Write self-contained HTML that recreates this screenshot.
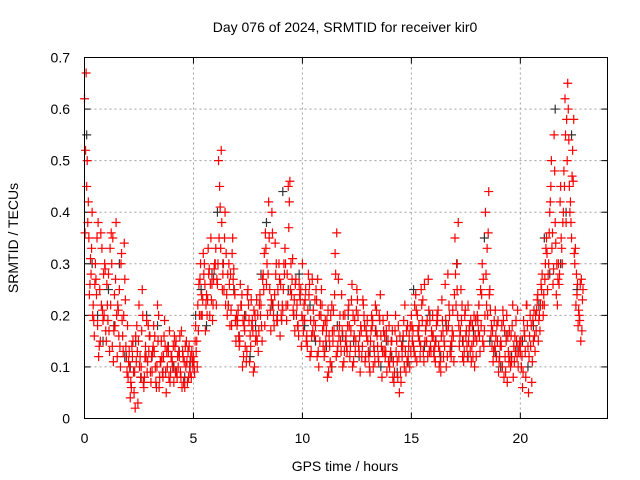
<!DOCTYPE html>
<html><head><meta charset="utf-8"><style>
body{margin:0;background:#fff;}
svg{display:block;font-family:"Liberation Sans",sans-serif;}
</style></head><body>
<svg id="chart" width="640" height="480" viewBox="0 0 640 480">
<text x="345" y="32" font-size="14" text-anchor="middle">Day 076 of 2024, SRMTID for receiver kir0</text>
<text x="345" y="471" font-size="14" text-anchor="middle">GPS time / hours</text>
<text x="18" y="238" font-size="14" text-anchor="middle" transform="rotate(-90 18 238)">SRMTID / TECUs</text>
<g id="grid"></g>
<g id="axes"></g>
<g id="black-series"></g>
<g id="red-series"></g>
<rect x="84.5" y="57.5" width="523" height="361" fill="none" stroke="#000" stroke-width="1"/>
</svg>
<script>
const xTicks=[0,5,10,15,20];
const yTicks=[0,0.1,0.2,0.3,0.4,0.5,0.6,0.7];
const yTickLabels=["0","0.1","0.2","0.3","0.4","0.5","0.6","0.7"];
const redA=[.62,.45,.35,.28,.22,.30,.18,.25,.33,.20,
.15,.28,.22,.35,.18,.12,.25,.32,.20,.14,
.08,.04,.12,.09,.18,.22,.10,.07,.14,.11,
.16,.09,.13,.06,.20,.11,.08,.14,.10,.17,
.12,.07,.15,.10,.09,.13,.06,.11,.14,.08,
.12,.18,.22,.27,.20,.30,.24,.28,.35,.22,
.30,.26,.45,.38,.25,.32,.22,.28,.35,.24,
.18,.14,.22,.12,.20,.25,.16,.19,.10,.23,
.17,.22,.28,.36,.20,.25,.40,.18,.30,.22,
.26,.21,.33,.28,.42,.24,.20,.27,.18,.23,
.30,.19,.16,.24,.13,.21,.18,.27,.15,.22,
.12,.17,.09,.20,.15,.32,.13,.18,.24,.11,
.16,.21,.14,.10,.19,.25,.13,.17,.22,.12,
.15,.09,.18,.13,.21,.11,.16,.19,.12,.20,
.10,.15,.07,.13,.18,.09,.14,.22,.11,.16,
.20,.14,.24,.17,.12,.19,.26,.15,.21,.13,
.16,.11,.19,.13,.23,.15,.10,.18,.14,.21,
.35,.25,.14,.19,.11,.16,.22,.13,.18,.10,
.15,.22,.18,.27,.40,.20,.25,.14,.19,.12,
.09,.15,.21,.12,.07,.17,.11,.14,.19,.10,
.13,.06,.16,.22,.12,.18,.15,.20,.24,.17,
.28,.22,.35,.30,.45,.26,.38,.22,.28,.33,
.48,.38,.60,.42,.52,.30,.24,.20,.27];
const redB=[.52,.38,.26,.40,.16,.24,.12,.36,.19,.29,
.22,.13,.30,.17,.38,.21,.10,.16,.27,.09,
.13,.06,.09,.16,.03,.12,.25,.08,.19,.13,
.07,.14,.10,.22,.08,.12,.16,.05,.13,.09,
.10,.14,.08,.12,.17,.07,.10,.13,.09,.11,
.09,.15,.26,.20,.32,.17,.23,.20,.26,.29,
.22,.50,.33,.28,.40,.20,.26,.18,.29,.15,
.21,.26,.10,.17,.13,.19,.23,.09,.15,.20,
.24,.15,.32,.26,.42,.17,.22,.34,.19,.27,
.19,.30,.22,.45,.25,.31,.17,.22,.26,.14,
.17,.25,.21,.12,.27,.16,.23,.10,.20,.14,
.19,.08,.14,.22,.17,.12,.27,.15,.10,.20,
.13,.18,.23,.11,.15,.20,.09,.14,.18,.16,
.12,.17,.10,.22,.14,.19,.08,.13,.17,.11,
.13,.08,.17,.11,.05,.14,.19,.09,.12,.18,
.15,.22,.11,.18,.25,.13,.17,.12,.19,.16,
.12,.18,.14,.09,.17,.26,.12,.20,.15,.11,
.22,.38,.17,.12,.20,.14,.17,.11,.15,.19,
.19,.13,.30,.17,.22,.44,.16,.11,.21,.15,
.12,.18,.08,.15,.13,.10,.22,.16,.12,.14,
.10,.19,.08,.14,.20,.11,.16,.21,.19,.26,
.20,.30,.25,.40,.33,.55,.24,.30,.45,.38,
.62,.50,.45,.35,.58,.22,.18,.26,.23];
const redC=[.67,.42,.31,.20,.26,.35,.14,.22,.28,.17,
.19,.33,.14,.24,.20,.16,.30,.13,.23,.18,
.10,.14,.05,.11,.15,.08,.20,.12,.09,.16,
.12,.18,.07,.15,.11,.09,.19,.13,.08,.12,
.14,.09,.12,.16,.06,.11,.15,.08,.12,.10,
.15,.10,.20,.24,.28,.22,.33,.26,.19,.30,
.27,.35,.52,.30,.22,.28,.18,.32,.25,.20,
.16,.22,.19,.14,.24,.11,.18,.21,.16,.13,
.20,.27,.18,.30,.35,.23,.20,.28,.25,.16,
.22,.28,.19,.37,.30,.21,.26,.18,.24,.20,
.22,.15,.28,.19,.17,.23,.12,.20,.25,.18,
.15,.21,.11,.17,.24,.36,.16,.13,.20,.15,
.18,.12,.26,.16,.21,.14,.18,.23,.11,.19,
.10,.20,.14,.17,.12,.24,.13,.16,.09,.18,
.15,.11,.20,.08,.16,.12,.10,.17,.14,.13,
.17,.12,.20,.15,.22,.11,.18,.27,.14,.20,
.14,.20,.10,.16,.12,.19,.28,.13,.17,.24,
.30,.18,.25,.15,.21,.12,.18,.14,.20,.12,
.17,.25,.15,.20,.33,.24,.18,.13,.16,.19,
.14,.10,.17,.20,.11,.16,.08,.13,.21,.15,
.12,.17,.22,.05,.14,.19,.13,.23,.20,.25,
.24,.33,.28,.42,.36,.48,.30,.26,.35,.40,
.55,.65,.40,.47,.32,.28,.21,.15,.25];
const redD=[.36,.50,.24,.33,.19,.27,.38,.15,.21,.30,
.26,.17,.36,.11,.27,.22,.14,.19,.34,.12,
.11,.07,.15,.02,.13,.10,.17,.06,.12,.18,
.09,.13,.16,.10,.06,.15,.12,.09,.14,.07,
.11,.16,.09,.13,.08,.12,.14,.07,.10,.13,
.11,.13,.17,.30,.23,.26,.20,.29,.23,.27,
.33,.30,.41,.25,.35,.24,.30,.21,.27,.19,
.19,.15,.24,.18,.11,.22,.14,.17,.20,.15,
.22,.18,.25,.33,.28,.21,.36,.24,.19,.30,
.20,.25,.30,.22,.46,.27,.23,.20,.16,.25,
.19,.23,.14,.26,.16,.19,.25,.13,.22,.17,
.13,.19,.16,.10,.21,.28,.14,.20,.17,.13,
.14,.22,.17,.20,.13,.23,.16,.12,.20,.17,
.13,.15,.19,.11,.16,.20,.14,.17,.13,.15,
.12,.17,.09,.15,.12,.07,.16,.13,.18,.10,
.18,.13,.21,.16,.14,.23,.15,.19,.13,.17,
.13,.15,.21,.11,.19,.14,.17,.22,.12,.16,
.28,.20,.16,.22,.13,.17,.15,.19,.12,.16,
.20,.16,.24,.14,.28,.36,.21,.17,.14,.18,
.11,.14,.19,.09,.16,.12,.18,.11,.15,.13,
.15,.09,.13,.18,.16,.07,.21,.17,.15,.22,
.22,.27,.32,.36,.50,.29,.34,.27,.42,.30,
.45,.58,.54,.38,.46,.33,.26,.19,.17];
const blackS=[.55,.30,.20,.15,.25,.18,.30,.12,.10,.15,.08,.20,.12,.18,.09,.14,.10,.13,.08,.11,
.20,.25,.18,.28,.40,.30,.22,.25,.16,.20,.12,.18,.28,.38,.22,.20,.44,.25,.20,.28,
.18,.22,.15,.20,.14,.10,.18,.16,.20,.15,.12,.18,.13,.17,.10,.15,.12,.09,.15,.11,
.25,.18,.14,.20,.15,.12,.18,.14,.30,.15,.12,.17,.22,.35,.15,.13,.10,.16,.12,.14,
.15,.10,.18,.22,.35,.28,.60,.30,.40,.55,.25];
const X0=84.5,X1=607.5,Y0=418.5,Y1=57.5;
const xs=v=>X0+(v/24)*(X1-X0);
const ys=v=>Y0-(v/0.7)*(Y0-Y1);
const NS="http://www.w3.org/2000/svg";
const grid=document.getElementById('grid'),axes=document.getElementById('axes');
function el(t,a){const e=document.createElementNS(NS,t);for(const k in a)e.setAttribute(k,a[k]);return e;}
xTicks.forEach(v=>{
  const x=xs(v);
  if(v>0){const g=el('line',{x1:x,x2:x,y1:Y1,y2:Y0,stroke:'#a0a0a0','stroke-dasharray':'2,3'});
  
  
  grid.appendChild(g);}
  const t1=el('line',{x1:x,x2:x,y1:Y0,y2:Y0-6,stroke:'#000'});
  
  
  axes.appendChild(t1);
  const t2=el('line',{x1:x,x2:x,y1:Y1,y2:Y1+6,stroke:'#000'});
  
  
  axes.appendChild(t2);
  const l=el('text',{x:x,y:443,'font-size':14,'text-anchor':'middle'});l.textContent=String(v);
  
  
  axes.appendChild(l);
});
yTicks.forEach((v,i)=>{
  const y=ys(v);
  if(v>0&&v<0.7){const g=el('line',{x1:X0,x2:X1,y1:y,y2:y,stroke:'#a0a0a0','stroke-dasharray':'2,3'});
  
  
  grid.appendChild(g);}
  const t1=el('line',{x1:X0,x2:X0+6,y1:y,y2:y,stroke:'#000'});
  
  
  axes.appendChild(t1);
  const t2=el('line',{x1:X1,x2:X1-6,y1:y,y2:y,stroke:'#000'});
  
  
  axes.appendChild(t2);
  const l=el('text',{x:70,y:y+5,'font-size':14,'text-anchor':'end'});l.textContent=yTickLabels[i];
  
  
  axes.appendChild(l);
});
function plus(g,t,v,c){
  const x=xs(t),y=ys(v);
  const p=el('path',{d:`M${x-4.5},${y}H${x+4.5}M${x},${y-4.5}V${y+4.5}`,stroke:c,'stroke-width':1.2,fill:'none'});
  
  
  g.appendChild(p);
}
const bg=document.getElementById('black-series'),rg=document.getElementById('red-series');
blackS.forEach((v,i)=>plus(bg,i*0.25+0.1,v,'#333'));
redA.forEach((v,i)=>plus(rg,i*0.1,v,'#f00'));
redB.forEach((v,i)=>plus(rg,i*0.1+0.05,v,'#f00'));
redC.forEach((v,i)=>plus(rg,i*0.1+0.075,v,'#f00'));
redD.forEach((v,i)=>plus(rg,i*0.1+0.025,v,'#f00'));
</script>
</body></html>
